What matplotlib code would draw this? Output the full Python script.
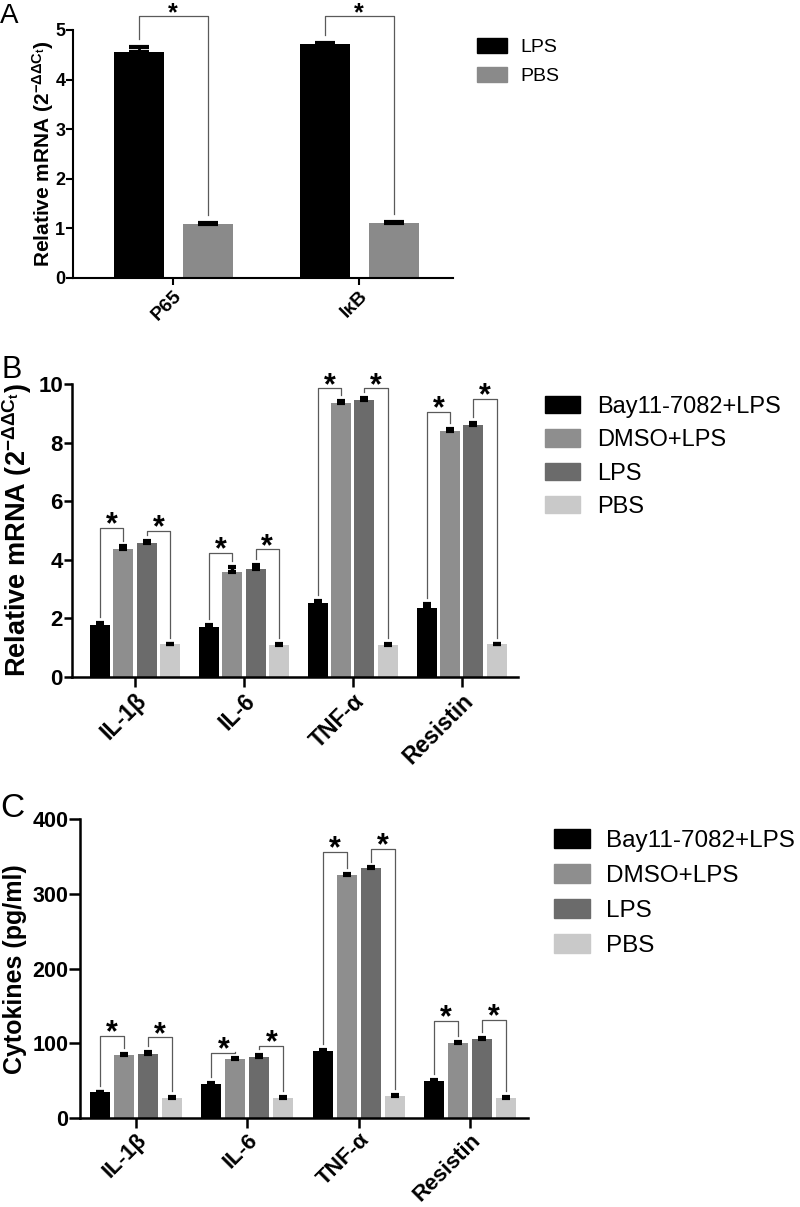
import matplotlib
matplotlib.use('Agg')
import matplotlib.pyplot as plt
import numpy as np
from matplotlib.patches import Patch

plt.rcParams['font.family'] = ['Liberation Sans', 'DejaVu Sans']
plt.rcParams['mathtext.fontset'] = 'custom'
plt.rcParams['mathtext.rm'] = 'Liberation Sans:bold'
plt.rcParams['mathtext.it'] = 'Liberation Sans:bold'
plt.rcParams['mathtext.bf'] = 'Liberation Sans:bold'

# ---------------- Data ----------------
# Panel A
a_genes = ['P65', 'IκB']
a_groups = ['LPS', 'PBS']
a_lps = [4.56, 4.72]
a_pbs = [1.08, 1.10]
a_lps_err = [0.09, 0.01]
a_pbs_err = [0.03, 0.03]
a_bracket = [5.28, 5.28]

# Panel B
genes = ['IL-1β', 'IL-6', 'TNF-α', 'Resistin']
groups4 = ['Bay11-7082+LPS', 'DMSO+LPS', 'LPS', 'PBS']
b_bay = [1.77, 1.71, 2.51, 2.34]
b_dmso = [4.37, 3.59, 9.34, 8.39]
b_lps = [4.57, 3.68, 9.44, 8.59]
b_pbs = [1.11, 1.10, 1.10, 1.11]
b_bay_err = [0.08, 0.05, 0.09, 0.14]
b_dmso_err = [0.08, 0.16, 0.08, 0.08]
b_lps_err = [0.06, 0.15, 0.08, 0.08]
b_pbs_err = [0.02, 0.02, 0.03, 0.02]
b_br1 = [5.09, 4.22, 9.85, 9.05]
b_br2 = [4.99, 4.35, 9.85, 9.49]

# Panel C
c_bay = [34.7, 45.4, 90.0, 50.3]
c_dmso = [84.6, 78.9, 325.3, 100.2]
c_lps = [86.4, 81.5, 334.0, 105.6]
c_pbs = [27.1, 27.6, 29.8, 27.6]
c_bay_err = [1.0, 1.2, 1.2, 1.0]
c_dmso_err = [1.5, 1.5, 1.0, 1.8]
c_lps_err = [1.6, 2.5, 1.2, 1.5]
c_pbs_err = [1.0, 1.0, 1.2, 1.0]
c_br1 = [110.0, 87.7, 356.4, 130.0]
c_br2 = [108.3, 96.6, 360.0, 131.4]

col_a = ['#000000', '#8a8a8a']
col4 = ['#000000', '#8e8e8e', '#6b6b6b', '#c9c9c9']

W, H = 800, 1207
fig = plt.figure(figsize=(W / 100, H / 100), dpi=100)


def ax_px(left, right, top, bottom):
    return fig.add_axes([left / W, 1 - bottom / H, (right - left) / W, (bottom - top) / H])


def style(ax, lw, ylen, xlen):
    ax.spines['top'].set_visible(False)
    ax.spines['right'].set_visible(False)
    ax.spines['left'].set_linewidth(lw)
    ax.spines['bottom'].set_linewidth(lw)
    ax.tick_params(axis='y', width=lw, length=ylen, direction='out', pad=0.5)
    ax.tick_params(axis='x', width=lw, length=xlen, direction='out', pad=2)


def draw(ax, means, errs, colors, offs, width, capsize, capthick, elw):
    for k, (m, e) in enumerate(zip(means, errs)):
        x = np.arange(len(m)) + offs[k]
        ax.bar(x, m, width=width, color=colors[k], edgecolor='none', zorder=2)
        ax.errorbar(x, m, yerr=[np.zeros(len(e)), e], fmt='none', ecolor='black',
                    elinewidth=elw, capsize=capsize, capthick=capthick, zorder=3)


def brackets(ax, means, errs, offs, pairs, heights, gap, starsize, staroff):
    n = len(means[0])
    for p, (i, j) in enumerate(pairs):
        for g in range(n):
            x1 = g + offs[i]
            x2 = g + offs[j]
            h = heights[p][g]
            y1 = means[i][g] + errs[i][g] + gap
            y2 = means[j][g] + errs[j][g] + gap
            ax.plot([x1, x1, x2, x2], [y1, h, h, y2], color='#5a5a5a', lw=0.9,
                    clip_on=False, zorder=4)
            ax.annotate('*', xy=((x1 + x2) / 2, h), xytext=(0, staroff),
                        textcoords='offset points', ha='center', va='baseline',
                        fontsize=starsize, fontweight='bold', annotation_clip=False)


# ---------------- Panel A ----------------
axA = ax_px(73, 453, 30, 278)
style(axA, 1.5, 5, 5)
offA = [-0.1855, 0.1855]
meansA = [a_lps, a_pbs]
errsA = [a_lps_err, a_pbs_err]
draw(axA, meansA, errsA, col_a, offA, 0.269, 7, 3, 2)
axA.set_xlim(-0.538, 1.505)
axA.set_ylim(0, 5)
axA.set_yticks(range(0, 6))
axA.set_xticks(range(len(a_genes)))
axA.set_xticklabels(a_genes, rotation=45, ha='right', rotation_mode='anchor',
                    fontsize=14, fontweight='bold')
for t in axA.get_yticklabels():
    t.set_fontsize(13)
    t.set_fontweight('bold')
axA.set_ylabel(r'Relative mRNA (2$^{-\Delta\Delta C_t}$)', fontsize=15, fontweight='bold')
axA.yaxis.set_label_coords(-0.045, 0.5)
brackets(axA, meansA, errsA, offA, [(0, 1)], [a_bracket], 0.17, 18, -3)
axA.legend(handles=[Patch(color=c, label=l) for c, l in zip(col_a, a_groups)],
           loc='upper left', bbox_to_anchor=(477 / W, 1 - 38 / H),
           bbox_transform=fig.transFigure, frameon=False, fontsize=14,
           handlelength=1.55, handleheight=0.82, handletextpad=0.67,
           labelspacing=0.53, borderpad=0, borderaxespad=0)
fig.text(0 / W, 1 - 3 / H, 'A', fontsize=20, va='top', ha='left')

# ---------------- Panel B ----------------
offs4 = np.array([-1.5, -0.5, 0.5, 1.5])
axB = ax_px(72, 518, 384, 676.7)
style(axB, 1.8, 6, 7)
offB = offs4 * 0.214
meansB = [b_bay, b_dmso, b_lps, b_pbs]
errsB = [b_bay_err, b_dmso_err, b_lps_err, b_pbs_err]
draw(axB, meansB, errsB, col4, offB, 0.184, 3.2, 3, 2.5)
axB.set_xlim(-0.579, 3.517)
axB.set_ylim(0, 10)
axB.set_yticks(range(0, 11, 2))
axB.set_xticks(range(len(genes)))
axB.set_xticklabels(genes, rotation=45, ha='right', rotation_mode='anchor',
                    fontsize=16.5, fontweight='bold')
for t in axB.get_yticklabels():
    t.set_fontsize(16)
    t.set_fontweight('bold')
axB.set_ylabel(r'Relative mRNA (2$^{-\Delta\Delta C_t}$)', fontsize=19.5, fontweight='bold')
axB.yaxis.set_label_coords(-0.085, 0.5)
brackets(axB, meansB, errsB, offB, [(0, 1), (2, 3)], [b_br1, b_br2], 0.2, 22, -4)
axB.legend(handles=[Patch(color=c, label=l) for c, l in zip(col4, groups4)],
           loc='upper left', bbox_to_anchor=(545 / W, 1 - 396 / H),
           bbox_transform=fig.transFigure, frameon=False, fontsize=17,
           handlelength=1.48, handleheight=0.76, handletextpad=0.72,
           labelspacing=0.48, borderpad=0, borderaxespad=0)
fig.text(2 / W, 1 - 355 / H, 'B', fontsize=22, va='top', ha='left')

# ---------------- Panel C ----------------
axC = ax_px(80, 528, 819, 1118.3)
style(axC, 1.8, 8, 7)
offC = offs4 * 0.216
meansC = [c_bay, c_dmso, c_lps, c_pbs]
errsC = [c_bay_err, c_dmso_err, c_lps_err, c_pbs_err]
draw(axC, meansC, errsC, col4, offC, 0.18, 3.2, 3, 2.5)
axC.set_xlim(-0.503, 3.52)
axC.set_ylim(0, 400)
axC.set_yticks(range(0, 401, 100))
axC.set_xticks(range(len(genes)))
axC.set_xticklabels(genes, rotation=45, ha='right', rotation_mode='anchor',
                    fontsize=16, fontweight='bold')
axC.tick_params(axis='x', pad=1)
for t in axC.get_yticklabels():
    t.set_fontsize(15.5)
    t.set_fontweight('bold')
axC.set_ylabel('Cytokines (pg/ml)', fontsize=18, fontweight='bold')
axC.yaxis.set_label_coords(-0.118, 0.5)
brackets(axC, meansC, errsC, offC, [(0, 1), (2, 3)], [c_br1, c_br2], 8, 22, -4)
axC.legend(handles=[Patch(color=c, label=l) for c, l in zip(col4, groups4)],
           loc='upper left', bbox_to_anchor=(554 / W, 1 - 829 / H),
           bbox_transform=fig.transFigure, frameon=False, fontsize=17.5,
           handlelength=1.5, handleheight=0.82, handletextpad=0.66,
           labelspacing=0.5, borderpad=0, borderaxespad=0)
fig.text(0 / W, 1 - 793 / H, 'C', fontsize=24, va='top', ha='left')

fig.savefig('out.png', dpi=100)
